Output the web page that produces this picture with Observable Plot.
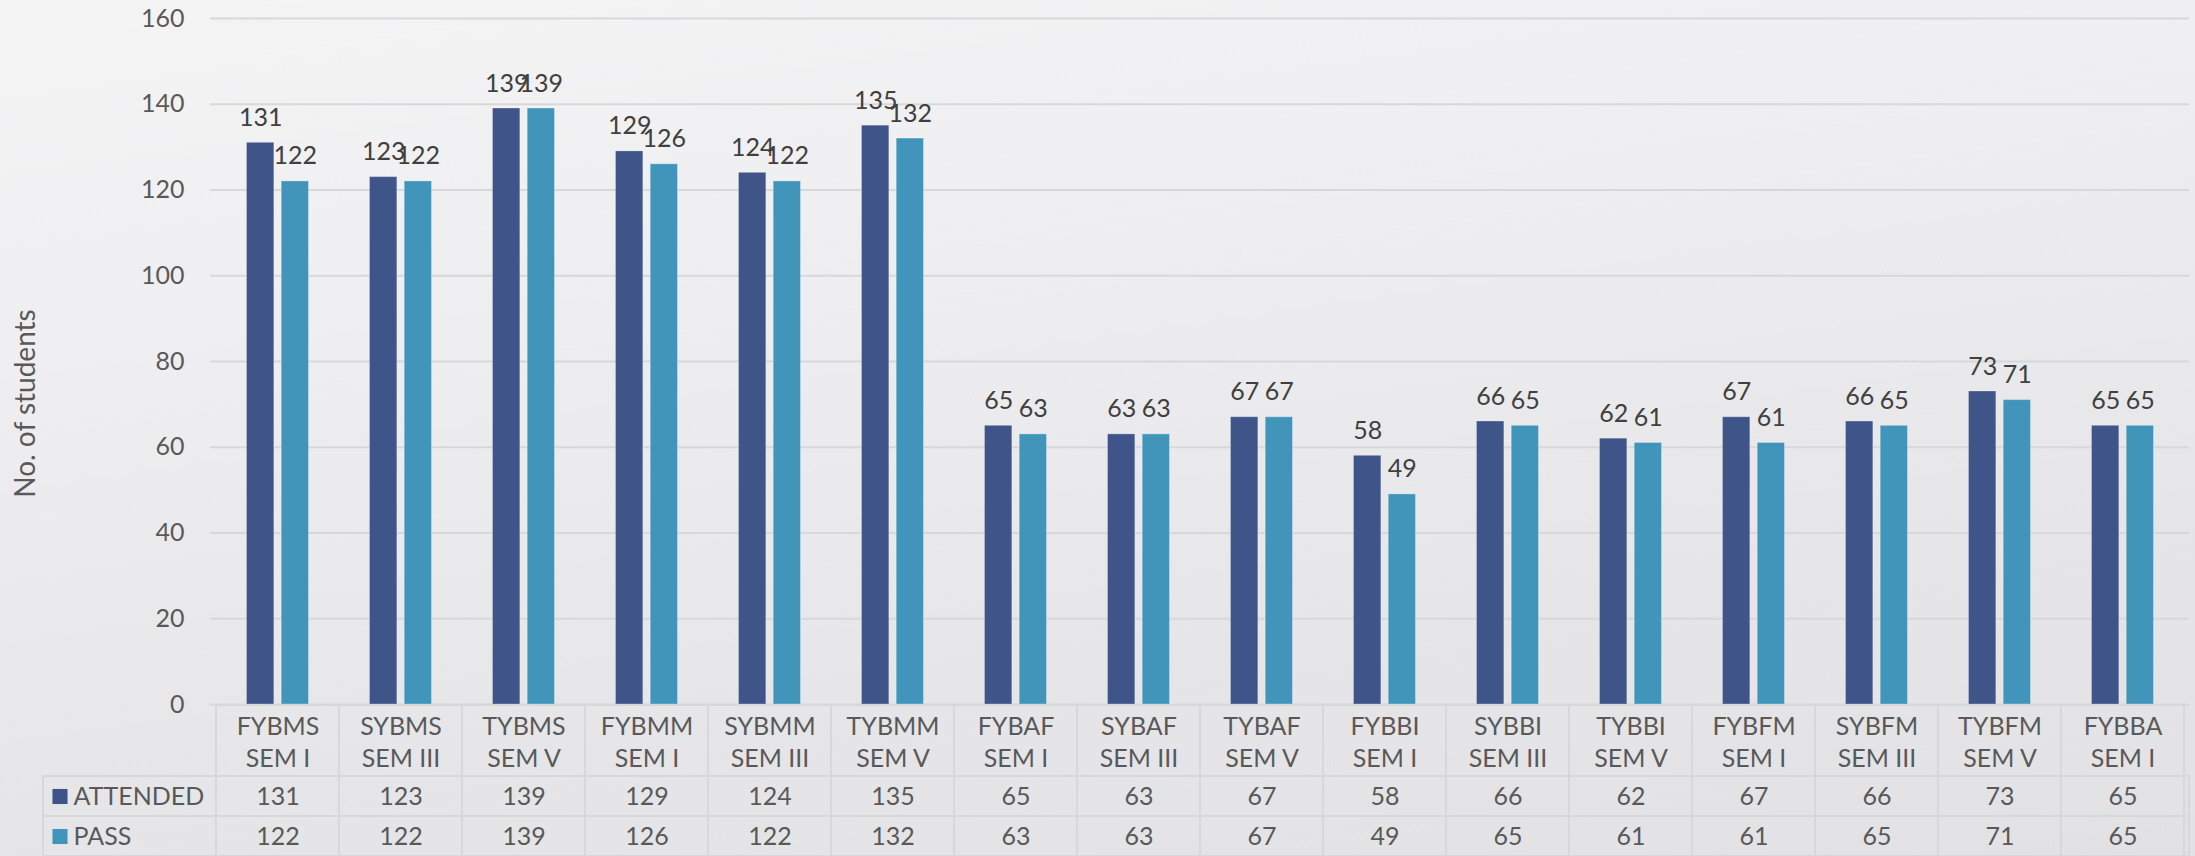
<!DOCTYPE html>
<html>
<head>
<meta charset="utf-8">
<script src="https://cdn.jsdelivr.net/npm/d3@7"></script>
<script src="https://cdn.jsdelivr.net/npm/@observablehq/plot@0.6"></script>
<style>
  html, body { margin: 0; padding: 0; }
  body {
    width: 2195px; height: 856px; overflow: hidden; position: relative;
    background: linear-gradient(172deg, #f4f4f5 0%, #eeeef0 35%, #e6e6e9 70%, #e2e2e5 100%);
    font-family: Lato, "Open Sans", sans-serif;
  }
  #chart { position: absolute; left: 0; top: 0; }
  #table { position: absolute; left: 0; top: 705px; }
  #chart svg, #table svg { display: block; }
</style>
</head>
<body>
<div id="chart"></div>
<div id="table"></div>
<script>
// ---- data ----
const categories = [
  "FYBMS\nSEM I", "SYBMS\nSEM III", "TYBMS\nSEM V",
  "FYBMM\nSEM I", "SYBMM\nSEM III", "TYBMM\nSEM V",
  "FYBAF\nSEM I", "SYBAF\nSEM III", "TYBAF\nSEM V",
  "FYBBI\nSEM I", "SYBBI\nSEM III", "TYBBI\nSEM V",
  "FYBFM\nSEM I", "SYBFM\nSEM III", "TYBFM\nSEM V",
  "FYBBA\nSEM I"
];
const attended = [131, 123, 139, 129, 124, 135, 65, 63, 67, 58, 66, 62, 67, 66, 73, 65];
const pass     = [122, 122, 139, 126, 122, 132, 63, 63, 67, 49, 65, 61, 61, 65, 71, 65];
const seriesNames = ["ATTENDED", "PASS"];
const seriesColors = ["#3f5488", "#4195ba"];
const yTicks = [0, 20, 40, 60, 80, 100, 120, 140, 160];
const yLabel = "No. of students";

// ---- derived tables ----
const rows = categories.map((c, i) => ({cat: c, attended: attended[i], pass: pass[i]}));
const tableRows = categories.flatMap((c, i) => [
  {cat: c, series: seriesNames[0], value: attended[i]},
  {cat: c, series: seriesNames[1], value: pass[i]}
]);

// ---- layout ----
const W = 2195, ML = 210, MR = 6;
const step = (W - ML - MR) / categories.length;
const outer = 30.5, barW = 28;
const inner = step - outer - barW;
const labelDx = step / 2 - outer - barW / 2;
const textColor = "#595959";
const lineColor = "#d8d8da";
const FS = 25;
const font = "Lato, 'Open Sans', sans-serif";

const chart = Plot.plot({
  width: W, height: 725,
  marginTop: 18, marginBottom: 21, marginLeft: ML, marginRight: MR,
  style: {background: "transparent", color: textColor, fontFamily: font, fontSize: FS + "px", overflow: "visible"},
  x: {domain: categories, padding: 0, axis: null},
  y: {domain: [0, 160], axis: null},
  color: {domain: seriesNames, range: seriesColors},
  marks: [
    Plot.gridY(yTicks.filter(t => t > 0), {stroke: lineColor, strokeOpacity: 1, strokeWidth: 2}),
    Plot.axisY(yTicks, {tickSize: 0, tickPadding: 26, fontSize: FS, label: null}),
    Plot.ruleY([0], {stroke: lineColor, strokeWidth: 2}),
    Plot.barY(rows, {x: "cat", y: "attended", fill: seriesColors[0], stroke: "#ffffff", strokeOpacity: 0.25, strokeWidth: 1, insetLeft: outer, insetRight: inner}),
    Plot.barY(rows, {x: "cat", y: "pass", fill: seriesColors[1], stroke: "#ffffff", strokeOpacity: 0.3, strokeWidth: 1, insetLeft: inner, insetRight: outer}),
    Plot.text(rows, {x: "cat", y: "attended", text: "attended", dx: -labelDx, dy: -17, lineAnchor: "bottom", fontSize: FS, fill: "#404040"}),
    Plot.text(rows, {x: "cat", y: "pass", text: "pass", dx: labelDx, dy: -17, lineAnchor: "bottom", fontSize: FS, fill: "#404040"}),
    Plot.text([yLabel], {text: d => d, frameAnchor: "left", textAnchor: "middle", lineAnchor: "middle", dx: -184, dy: 42, rotate: -90, fontSize: 28})
  ]
});

const table = Plot.plot({
  width: W, height: 151,
  marginTop: 71, marginBottom: 0, marginLeft: ML, marginRight: MR,
  style: {background: "transparent", color: textColor, fontFamily: font, fontSize: FS + "px", overflow: "visible"},
  x: {domain: categories, padding: 0, axis: null},
  y: {domain: seriesNames, padding: 0, axis: null},
  color: {domain: seriesNames, range: seriesColors},
  marks: [
    Plot.cell(seriesNames, {y: d => d, insetLeft: -167, fill: "none", stroke: lineColor, strokeWidth: 2}),
    Plot.cell(categories, {x: d => d, insetTop: -71, fill: "none", stroke: lineColor, strokeWidth: 2}),
    Plot.cell(tableRows, {x: "cat", y: "series", fill: "none", stroke: lineColor, strokeWidth: 2}),
    Plot.text(categories, {x: d => d, text: d => d, frameAnchor: "top", textAnchor: "middle", lineAnchor: "middle", dy: -35.5, lineHeight: 1.28, fontSize: FS}),
    Plot.text(tableRows, {x: "cat", y: "series", text: "value", fontSize: FS}),
    Plot.dot(seriesNames, {y: d => d, fill: d => d, frameAnchor: "left", dx: -150.5, symbol: "square", r: 8.5}),
    Plot.text(seriesNames, {y: d => d, text: d => d, frameAnchor: "left", dx: -137, textAnchor: "start", lineAnchor: "middle", fontSize: FS})
  ]
});

document.getElementById("chart").append(chart);
document.getElementById("table").append(table);
</script>
</body>
</html>
